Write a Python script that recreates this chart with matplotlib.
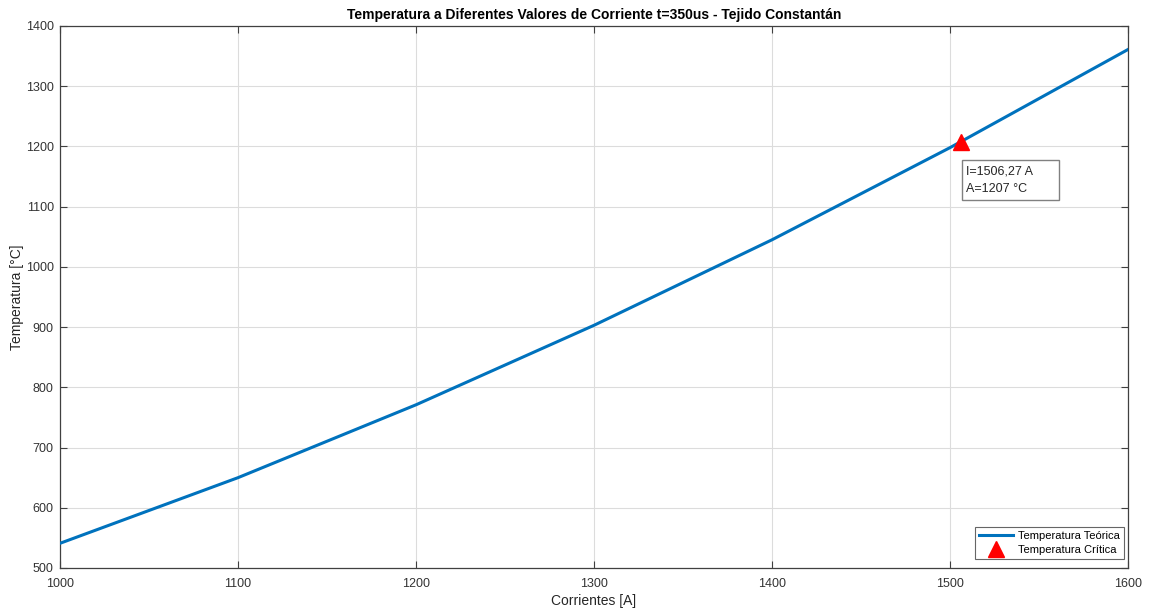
import matplotlib
matplotlib.use("Agg")
import matplotlib.pyplot as plt
from matplotlib.patches import Rectangle

corrientes = [1000, 1100, 1200, 1300, 1400, 1500, 1600]
temperatura = [541, 650, 771, 903, 1045, 1198, 1361]
critica_x = [1506.27]
critica_y = [1207]
x_ticks = [1000, 1100, 1200, 1300, 1400, 1500, 1600]
y_ticks = [500, 600, 700, 800, 900, 1000, 1100, 1200, 1300, 1400]

plt.rcParams['font.family'] = ['Liberation Sans', 'DejaVu Sans']

fig = plt.figure(figsize=(11.49, 6.08), dpi=100)
ax = fig.add_axes([60/1149, 1-568/608, (1128-60)/1149, (568-26)/608])

ax.plot(corrientes, temperatura, color='#0072BD', lw=2.2, label='Temperatura Teórica', zorder=3)
ax.plot(critica_x, critica_y, marker='^', color='#FF0000', ms=11, ls='none',
        label='Temperatura Crítica', zorder=4)

ax.set_xlim(1000, 1600)
ax.set_ylim(500, 1400)
ax.set_xticks(x_ticks)
ax.set_yticks(y_ticks)
ax.grid(True, color='#dcdcdc', lw=0.8)
ax.set_axisbelow(True)
ax.tick_params(direction='in', top=True, right=True, length=5, colors='#404040',
               labelsize=9, labelcolor='#333333')
ax.tick_params(axis='x', pad=7)
ax.tick_params(axis='y', pad=4.5)
for s in ax.spines.values():
    s.set_color('#404040')
    s.set_linewidth(0.9)

ax.set_xlabel('Corrientes [A]', fontsize=10, color='#262626', labelpad=3)
ax.set_ylabel('Temperatura [°C]', fontsize=10, color='#262626')
ax.yaxis.set_label_coords(-0.0337, 0.5)
ax.set_title('Temperatura a Diferentes Valores de Corriente t=350us - Tejido Constantán',
             fontsize=10, fontweight='bold', color='#000000', pad=5)

# data tip box
ax.add_patch(Rectangle((1506.7, 1111), 54.5, 66.5, fc='white', ec='#808080', lw=1, zorder=5))
ax.text(1509.2, 1159, 'I=1506,27 A', fontsize=9, color='#262626', va='center', ha='left', zorder=6)
ax.text(1509.2, 1129.5, 'A=1207 °C', fontsize=9, color='#262626', va='center', ha='left', zorder=6)

leg = ax.legend(loc='lower right', bbox_to_anchor=(0.9963, 0.0166), fontsize=8, frameon=True,
                fancybox=False, edgecolor='#404040', borderpad=0.4, handlelength=3.0,
                handletextpad=0.45, labelspacing=0.3, borderaxespad=0)
leg.get_frame().set_linewidth(0.8)

fig.savefig('out.png', dpi=100, facecolor='white')
